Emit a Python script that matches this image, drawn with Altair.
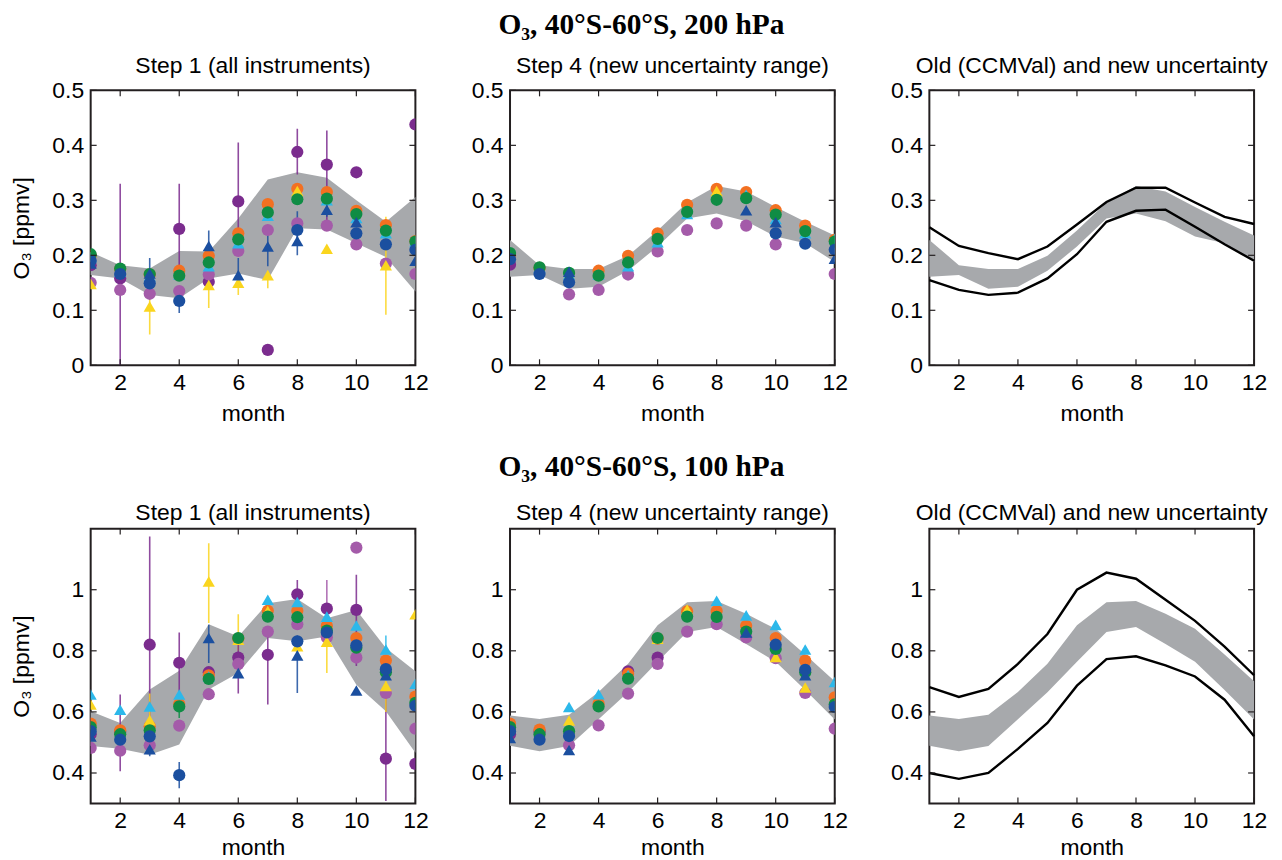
import altair as alt
import pandas as pd

N = None
MONTHS = list(range(1, 13))

# instrument series (draw order), colours and marker shapes
SERIES = ["dpurple", "lpurple", "lpurple_x", "orange", "cyan", "yellow", "green", "blue_t", "blue_c"]
COLORS = ["#7B2C8E", "#A45BA9", "#A45BA9", "#F37021", "#2CB8EA", "#FAD51E", "#0F8C44", "#1B4F9F", "#1B4F9F"]
SHAPES = ["circle", "circle", "circle", "circle", "triangle-up", "triangle-up", "circle", "triangle-up", "circle"]

# ---------------- 200 hPa ----------------
s1_200_lo = [0.164, 0.158, 0.128, 0.122, 0.158, 0.167, 0.155, 0.249, 0.247, 0.222, 0.197, 0.134]
s1_200_hi = [0.206, 0.182, 0.176, 0.208, 0.207, 0.267, 0.338, 0.351, 0.341, 0.300, 0.261, 0.306]
s1_200_orange = [0.200, 0.175, 0.165, 0.172, 0.199, 0.240, 0.293, 0.321, 0.315, 0.281, 0.255, 0.226]
s1_200_green = [0.202, 0.176, 0.166, 0.163, 0.187, 0.229, 0.278, 0.302, 0.303, 0.275, 0.245, 0.225]
s1_200_blue_c = [0.190, 0.166, 0.149, 0.117, N, N, N, 0.246, N, 0.240, 0.220, 0.210]
s1_200_lpurple = [0.150, 0.137, 0.130, 0.135, 0.165, 0.208, 0.246, 0.258, 0.254, 0.220, 0.185, 0.166]
s1_200_dpurple = [0.182, 0.158, N, 0.248, 0.152, 0.298, 0.028, 0.388, 0.365, 0.351, N, 0.438]
s1_200_yellow = [0.148, N, 0.107, N, 0.146, 0.150, 0.164, 0.317, 0.212, N, 0.182, N]
s1_200_cyan = [0.197, 0.170, 0.162, 0.165, 0.180, 0.222, 0.272, 0.310, 0.300, 0.268, 0.240, 0.225]
s1_200_blue_t = [0.185, N, 0.167, N, 0.217, 0.164, 0.216, 0.226, 0.283, 0.260, N, 0.190]
eb200_month = [2, 3, 3, 4, 4, 5, 5, 6, 6, 6, 7, 7, 8, 8, 8, 9, 9, 11]
eb200_series = ["dpurple", "blue_t", "yellow", "dpurple", "blue_c", "blue_t", "yellow", "dpurple", "blue_t",
                "yellow", "blue_t", "yellow", "dpurple", "blue_c", "blue_t", "dpurple", "blue_t", "yellow"]
eb200_lo = [0.0, 0.15, 0.056, 0.17, 0.095, 0.20, 0.104, 0.20, 0.15, 0.128, 0.18, 0.14, 0.347, 0.22, 0.20, 0.26, 0.27, 0.092]
eb200_hi = [0.33, 0.195, 0.15, 0.33, 0.13, 0.245, 0.16, 0.405, 0.195, 0.16, 0.25, 0.17, 0.43, 0.28, 0.235, 0.427, 0.30, 0.27]
s4_200_lo = [0.161, 0.164, 0.139, 0.143, 0.172, 0.216, 0.267, 0.276, 0.262, 0.234, 0.222, 0.188]
s4_200_hi = [0.228, 0.182, 0.175, 0.175, 0.199, 0.245, 0.296, 0.326, 0.316, 0.288, 0.261, 0.236]
s4_200_orange = [0.200, 0.177, N, 0.172, 0.199, 0.240, 0.292, 0.321, 0.315, 0.282, 0.254, 0.228]
s4_200_green = [0.204, 0.178, 0.168, 0.163, 0.187, 0.230, 0.279, 0.301, 0.304, 0.274, 0.244, 0.225]
s4_200_blue_c = [0.193, 0.166, 0.151, N, N, N, N, N, N, 0.240, 0.221, 0.210]
s4_200_lpurple = [N, N, 0.129, 0.137, 0.165, 0.207, 0.246, 0.258, 0.254, 0.220, N, 0.166]
s4_200_dpurple = [0.183, N, N, N, N, N, N, N, N, N, N, N]
s4_200_yellow = [N, N, N, N, N, N, N, 0.317, N, N, N, N]
s4_200_cyan = [0.200, 0.178, 0.165, 0.165, 0.180, 0.224, 0.275, 0.310, 0.310, 0.266, 0.240, 0.230]
s4_200_blue_t = [N, N, 0.170, N, N, N, N, N, 0.282, 0.260, N, 0.194]
old_200_lo = [0.155, 0.137, 0.128, 0.132, 0.158, 0.202, 0.261, 0.281, 0.283, 0.252, 0.220, 0.190]
old_200_hi = [0.251, 0.217, 0.204, 0.193, 0.216, 0.256, 0.297, 0.323, 0.323, 0.296, 0.270, 0.257]

# ---------------- 100 hPa ----------------
s1_100_lo = [0.488, 0.479, 0.460, 0.493, 0.673, 0.727, 0.842, 0.831, 0.847, 0.689, 0.602, 0.466]
s1_100_hi = [0.602, 0.564, 0.673, 0.735, 0.887, 0.847, 0.956, 0.970, 0.907, 0.934, 0.809, 0.733]
s1_100_orange = [0.562, 0.540, 0.553, 0.626, 0.720, 0.840, 0.931, 0.931, 0.882, 0.842, 0.768, 0.650]
s1_100_green = [0.550, 0.527, 0.540, 0.618, 0.708, 0.842, 0.912, 0.910, 0.866, 0.810, 0.730, 0.630]
s1_100_blue_c = [0.537, 0.509, 0.520, 0.393, N, N, N, 0.831, 0.860, 0.818, 0.740, 0.620]
s1_100_lpurple = [0.482, 0.473, 0.491, 0.555, 0.658, 0.757, 0.863, 0.887, 0.844, 0.778, 0.662, 0.545]
s1_100_lpurple_x = [N, N, N, N, N, N, N, N, N, 1.138, N, N]
s1_100_dpurple = [0.527, 0.535, 0.820, 0.761, 0.730, 0.778, 0.787, 0.985, 0.938, 0.934, 0.447, 0.430]
s1_100_yellow = [0.624, N, 0.573, N, 1.027, 0.836, 0.930, 0.815, 0.830, N, 0.685, 0.920]
s1_100_cyan = [0.657, 0.607, 0.618, 0.657, 0.716, N, 0.967, 0.960, 0.912, 0.883, 0.804, 0.692]
s1_100_blue_t = [0.520, N, 0.478, N, 0.842, 0.727, N, 0.785, N, 0.670, 0.720, N]
eb100_month = [2, 3, 3, 3, 4, 4, 4, 5, 5, 6, 6, 7, 8, 8, 9, 9, 10, 11, 11, 11]
eb100_series = ["dpurple", "dpurple", "yellow", "blue_t", "dpurple", "blue_c", "green", "yellow", "blue_t", "yellow",
                "dpurple", "dpurple", "dpurple", "blue_t", "lpurple", "yellow", "dpurple", "cyan", "dpurple", "yellow"]
eb100_lo = [0.406, 0.55, 0.55, 0.455, 0.60, 0.35, 0.58, 0.891, 0.76, 0.80, 0.66, 0.624, 0.93, 0.662, 0.85, 0.727, 0.75, 0.80, 0.308, 0.60]
eb100_hi = [0.657, 1.174, 0.66, 0.50, 0.86, 0.436, 0.65, 1.152, 0.885, 0.92, 0.84, 0.87, 1.032, 0.85, 1.032, 0.83, 1.049, 0.85, 0.66, 0.70]
s4_100_lo = [0.489, 0.471, 0.488, 0.576, 0.664, 0.764, 0.862, 0.878, 0.822, 0.764, 0.672, 0.575]
s4_100_hi = [0.588, 0.577, 0.591, 0.665, 0.758, 0.884, 0.959, 0.963, 0.921, 0.872, 0.788, 0.700]
s4_100_orange = [0.562, 0.542, N, 0.627, 0.725, 0.840, 0.929, 0.930, 0.882, 0.842, 0.768, 0.648]
s4_100_green = [0.550, 0.527, 0.537, 0.618, 0.709, 0.842, 0.912, 0.911, 0.863, 0.806, 0.730, 0.625]
s4_100_blue_c = [0.537, 0.509, 0.521, N, N, N, N, N, N, 0.820, 0.738, 0.616]
s4_100_lpurple = [N, N, 0.491, 0.556, 0.660, 0.757, 0.863, 0.887, 0.844, 0.776, 0.662, 0.545]
s4_100_dpurple = [0.527, 0.535, N, N, 0.733, 0.778, N, N, N, N, N, N]
s4_100_yellow = [N, N, 0.572, N, N, 0.840, 0.935, N, N, 0.780, 0.680, N]
s4_100_cyan = [N, N, 0.616, 0.658, 0.720, N, N, 0.964, 0.916, 0.885, 0.804, 0.698]
s4_100_blue_t = [0.515, N, 0.475, N, N, N, N, N, 0.860, N, 0.720, N]
old_100_lo = [0.400, 0.381, 0.400, 0.479, 0.564, 0.686, 0.773, 0.782, 0.752, 0.716, 0.640, 0.520]
old_100_hi = [0.681, 0.649, 0.675, 0.757, 0.855, 1.000, 1.056, 1.036, 0.967, 0.898, 0.814, 0.720]

X_TICKS = [2, 4, 6, 8, 10, 12]
Y_TICKS_200 = [0, 0.1, 0.2, 0.3, 0.4, 0.5]
Y_TICKS_100 = [0.4, 0.6, 0.8, 1.0]

W, H = 326, 276
FRAME = "#231F20"
BAND = "#A7A9AC"
FONT = "Liberation Sans"
FS = 23


def points_df(d):
    rows = []
    for name in SERIES:
        vals = d.get(name)
        if vals is None:
            continue
        for m, v in zip(MONTHS, vals):
            if v is not None:
                rows.append({"month": m, "value": v, "series": name, "k": SERIES.index(name)})
    return pd.DataFrame(rows)


def panel(title, toff, band_lo, band_hi, ydom, yticks, ytitle, xtpad, pts=None, eb=None, old=None):
    xs = alt.Scale(domain=[1, 12], nice=False, zero=False)
    ys = alt.Scale(domain=ydom, nice=False, zero=False)
    cscale = alt.Scale(domain=SERIES, range=COLORS)
    xaxis = alt.Axis(values=X_TICKS, title="month", ticks=False, domain=False, grid=False,
                     labelFlush=False, labelPadding=6, titlePadding=xtpad)
    ykw = dict(values=yticks, format="~g", ticks=False, domain=False, grid=False,
               labelFlush=False, labelPadding=7)
    if ytitle:
        yaxis = alt.Axis(title="O₃ [ppmv]", titlePadding=18, **ykw)
    else:
        yaxis = alt.Axis(title=None, **ykw)

    band_df = pd.DataFrame({"month": MONTHS, "lo": band_lo, "hi": band_hi})
    layers = [
        alt.Chart(band_df).mark_area(color=BAND, opacity=1).encode(
            x=alt.X("month:Q", scale=xs, axis=xaxis),
            y=alt.Y("lo:Q", scale=ys, axis=yaxis),
            y2="hi:Q",
        )
    ]
    if eb is not None:
        eb_df = pd.DataFrame({"month": eb[0], "series": eb[1], "lo": eb[2], "hi": eb[3]})
        layers.append(
            alt.Chart(eb_df).mark_rule(strokeWidth=1.6, opacity=0.85, clip=True).encode(
                x=alt.X("month:Q", scale=xs),
                y=alt.Y("lo:Q", scale=ys),
                y2="hi:Q",
                color=alt.Color("series:N", scale=cscale, legend=None),
            )
        )
    if pts is not None:
        pdf = points_df(pts)
        layers.append(
            alt.Chart(pdf).mark_point(filled=True, opacity=1, size=150, clip=True).encode(
                x=alt.X("month:Q", scale=xs),
                y=alt.Y("value:Q", scale=ys),
                color=alt.Color("series:N", scale=cscale, legend=None),
                shape=alt.Shape("series:N", scale=alt.Scale(domain=SERIES, range=SHAPES), legend=None),
                order=alt.Order("k:Q"),
            )
        )
    if old is not None:
        for arr in old:
            ldf = pd.DataFrame({"month": MONTHS, "lo": arr})
            layers.append(
                alt.Chart(ldf).mark_line(color="black", strokeWidth=2.4).encode(
                    x=alt.X("month:Q", scale=xs),
                    y=alt.Y("lo:Q", scale=ys),
                )
            )
    # inward tick marks on all four sides
    xt = pd.DataFrame({"month": X_TICKS})
    yt = pd.DataFrame({"lo": yticks})
    tick = dict(color=FRAME, strokeWidth=1.2)
    layers += [
        alt.Chart(xt).mark_rule(**tick).encode(x=alt.X("month:Q", scale=xs), y=alt.value(H), y2=alt.value(H - 6)),
        alt.Chart(xt).mark_rule(**tick).encode(x=alt.X("month:Q", scale=xs), y=alt.value(0), y2=alt.value(6)),
        alt.Chart(yt).mark_rule(**tick).encode(y=alt.Y("lo:Q", scale=ys), x=alt.value(0), x2=alt.value(6)),
        alt.Chart(yt).mark_rule(**tick).encode(y=alt.Y("lo:Q", scale=ys), x=alt.value(W), x2=alt.value(W - 6)),
    ]
    return alt.layer(*layers).properties(
        width=W, height=H,
        title=alt.TitleParams(title, font=FONT, fontSize=FS, fontWeight="normal", color="black",
                              anchor="middle", offset=toff),
    )


pts_s1_200 = {"orange": s1_200_orange, "green": s1_200_green, "blue_c": s1_200_blue_c, "lpurple": s1_200_lpurple,
              "dpurple": s1_200_dpurple, "yellow": s1_200_yellow, "cyan": s1_200_cyan, "blue_t": s1_200_blue_t}
pts_s4_200 = {"orange": s4_200_orange, "green": s4_200_green, "blue_c": s4_200_blue_c, "lpurple": s4_200_lpurple,
              "dpurple": s4_200_dpurple, "yellow": s4_200_yellow, "cyan": s4_200_cyan, "blue_t": s4_200_blue_t}
pts_s1_100 = {"orange": s1_100_orange, "green": s1_100_green, "blue_c": s1_100_blue_c, "lpurple": s1_100_lpurple,
              "lpurple_x": s1_100_lpurple_x, "dpurple": s1_100_dpurple, "yellow": s1_100_yellow,
              "cyan": s1_100_cyan, "blue_t": s1_100_blue_t}
pts_s4_100 = {"orange": s4_100_orange, "green": s4_100_green, "blue_c": s4_100_blue_c, "lpurple": s4_100_lpurple,
              "dpurple": s4_100_dpurple, "yellow": s4_100_yellow, "cyan": s4_100_cyan, "blue_t": s4_100_blue_t}

T1 = "Step 1 (all instruments)"
T4 = "Step 4 (new uncertainty range)"
TO = "Old (CCMVal) and new uncertainty"


def row_title(text, off):
    return alt.TitleParams(text, font="Liberation Serif", fontSize=29.5, fontWeight="bold", color="black",
                           anchor="middle", offset=off, dx=2)


row1 = alt.hconcat(
    panel(T1, 1, s1_200_lo, s1_200_hi, [0, 0.5], Y_TICKS_200, True, 8, pts=pts_s1_200,
          eb=(eb200_month, eb200_series, eb200_lo, eb200_hi)),
    panel(T4, 1, s4_200_lo, s4_200_hi, [0, 0.5], Y_TICKS_200, False, 8, pts=pts_s4_200),
    panel(TO, 1, s4_200_lo, s4_200_hi, [0, 0.5], Y_TICKS_200, False, 8, old=[old_200_hi, old_200_lo]),
    spacing=41, title=row_title("O₃, 40°S-60°S, 200 hPa", 14),
)
row2 = alt.hconcat(
    panel(T1, 3, s1_100_lo, s1_100_hi, [0.3, 1.2], Y_TICKS_100, True, 4, pts=pts_s1_100,
          eb=(eb100_month, eb100_series, eb100_lo, eb100_hi)),
    panel(T4, 3, s4_100_lo, s4_100_hi, [0.3, 1.2], Y_TICKS_100, False, 4, pts=pts_s4_100),
    panel(TO, 3, s4_100_lo, s4_100_hi, [0.3, 1.2], Y_TICKS_100, False, 4, old=[old_100_hi, old_100_lo]),
    spacing=41, title=row_title("O₃, 40°S-60°S, 100 hPa", 19),
)

chart = alt.vconcat(row1, row2, spacing=25).properties(
    padding={"left": 2, "top": 0, "right": 5, "bottom": 0},
    background="white",
).configure_view(
    stroke=FRAME, strokeWidth=2,
).configure_axis(
    labelFont=FONT, labelFontSize=FS, labelColor="black",
    titleFont=FONT, titleFontSize=FS, titleFontWeight="normal", titleColor="black",
)

chart.save("out.html", embed_options={"renderer": "svg", "actions": False})
